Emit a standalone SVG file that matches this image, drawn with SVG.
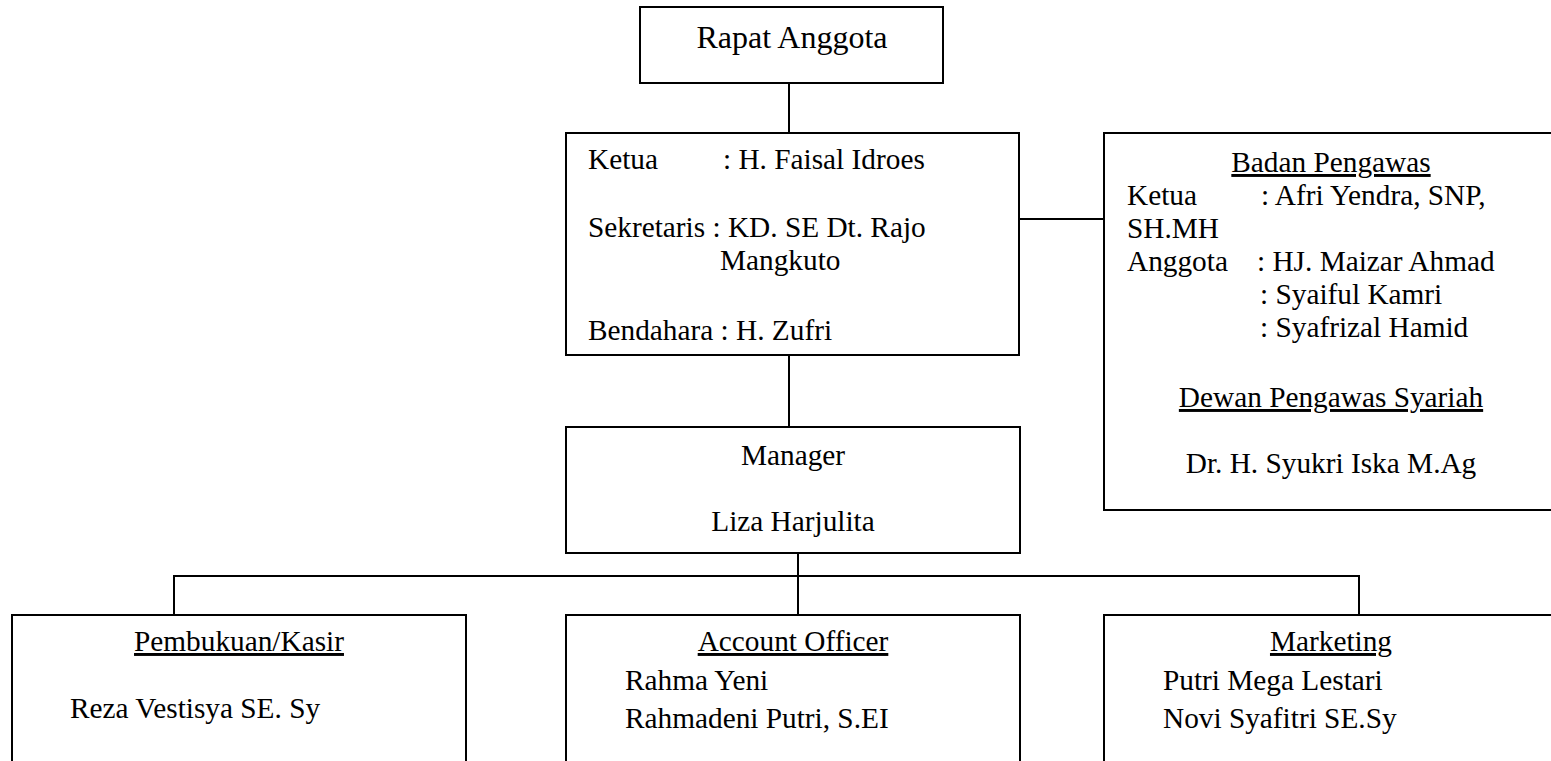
<svg xmlns="http://www.w3.org/2000/svg" width="1551" height="761" viewBox="0 0 1551 761">
<style>
.box{fill:#fff;stroke:#000;stroke-width:2}
.ln{stroke:#000;stroke-width:2;fill:none}
text{font-family:"Liberation Serif","Times New Roman",serif;font-size:29.3px;fill:#000}
.c{text-anchor:middle}
.u{text-decoration:underline}
</style>
<rect x="0" y="0" width="1551" height="761" fill="#fff"/>
<g id="connectors">
<line class="ln" x1="789" y1="83" x2="789" y2="133"/>
<line class="ln" x1="789" y1="355" x2="789" y2="427"/>
<line class="ln" x1="1019" y1="219" x2="1104" y2="219"/>
<line class="ln" x1="798" y1="553" x2="798" y2="615"/>
<polyline class="ln" points="174,615 174,576 1359,576 1359,615"/>
</g>
<g id="rapat-anggota">
<rect class="box" x="640" y="7" width="303" height="76"/>
<text class="c" x="792" y="48" style="font-size:32px">Rapat Anggota</text>
</g>
<g id="pengurus">
<rect class="box" x="566" y="133" width="453" height="222"/>
<text x="588" y="169">Ketua</text>
<text x="723" y="169">: H. Faisal Idroes</text>
<text x="588" y="237">Sekretaris : KD. SE Dt. Rajo</text>
<text x="720" y="270">Mangkuto</text>
<text x="588" y="340">Bendahara : H. Zufri</text>
</g>
<g id="badan-pengawas">
<rect class="box" x="1104" y="133" width="454" height="377"/>
<text class="c u" x="1331" y="172">Badan Pengawas</text>
<text x="1127" y="205">Ketua</text>
<text x="1261" y="205">: Afri Yendra, SNP,</text>
<text x="1127" y="238">SH.MH</text>
<text x="1127" y="271">Anggota</text>
<text x="1257" y="271">: HJ. Maizar Ahmad</text>
<text x="1260" y="304">: Syaiful Kamri</text>
<text x="1260" y="337">: Syafrizal Hamid</text>
<text class="c u" x="1331" y="407">Dewan Pengawas Syariah</text>
<text class="c" x="1331" y="473">Dr. H. Syukri Iska M.Ag</text>
</g>
<g id="manager">
<rect class="box" x="566" y="427" width="454" height="126"/>
<text class="c" x="793" y="465">Manager</text>
<text class="c" x="793" y="531">Liza Harjulita</text>
</g>
<g id="pembukuan">
<rect class="box" x="12" y="615" width="454" height="160"/>
<text class="c u" x="239" y="651">Pembukuan/Kasir</text>
<text x="70" y="718">Reza Vestisya SE. Sy</text>
</g>
<g id="account-officer">
<rect class="box" x="566" y="615" width="454" height="160"/>
<text class="c u" x="793" y="651">Account Officer</text>
<text x="625" y="690">Rahma Yeni</text>
<text x="625" y="728">Rahmadeni Putri, S.EI</text>
</g>
<g id="marketing">
<rect class="box" x="1104" y="615" width="454" height="160"/>
<text class="c u" x="1331" y="651">Marketing</text>
<text x="1163" y="690">Putri Mega Lestari</text>
<text x="1163" y="728">Novi Syafitri SE.Sy</text>
</g>
</svg>
